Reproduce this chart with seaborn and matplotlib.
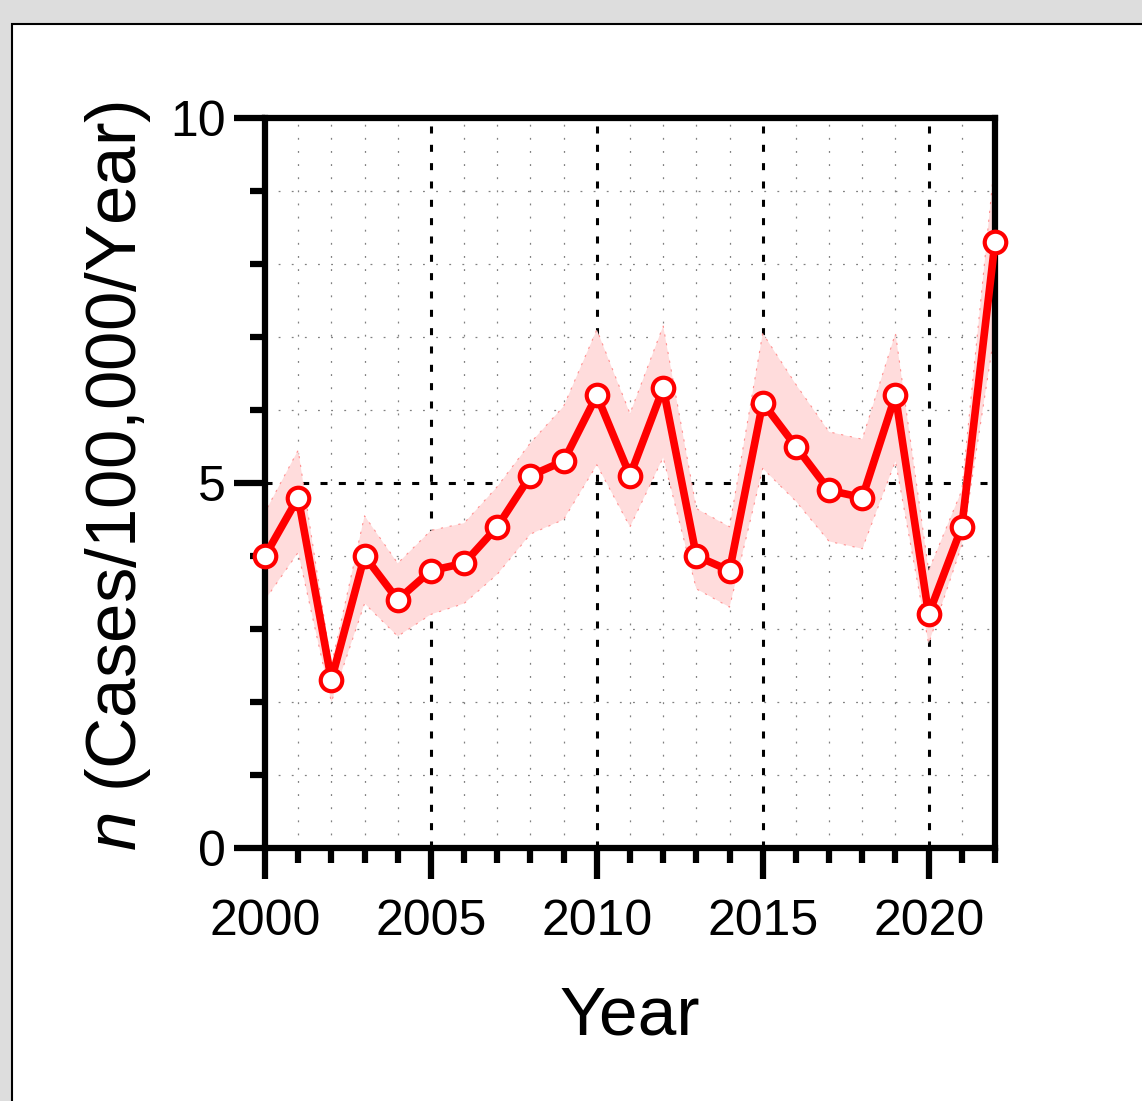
import matplotlib
matplotlib.use("Agg")
import matplotlib.pyplot as plt
import matplotlib.patches as mpatches
from matplotlib.ticker import MultipleLocator
import seaborn as sns
import pandas as pd

# incidence per year
years = list(range(2000, 2023))
rate = [4.0, 4.8, 2.3, 4.0, 3.4, 3.8, 3.9, 4.4, 5.1, 5.3, 6.2, 5.1,
        6.3, 4.0, 3.8, 6.1, 5.5, 4.9, 4.8, 6.2, 3.2, 4.4, 8.3]
upper = [4.6, 5.45, 2.5, 4.55, 3.9, 4.35, 4.45, 4.95, 5.55, 6.05, 7.1, 5.95,
         7.15, 4.65, 4.4, 7.05, 6.35, 5.7, 5.6, 7.05, 3.8, 4.9, 9.45]
lower = [3.4, 4.05, 2.0, 3.35, 2.9, 3.2, 3.35, 3.75, 4.3, 4.5, 5.25, 4.4,
         5.35, 3.55, 3.3, 5.2, 4.75, 4.2, 4.1, 5.3, 2.8, 4.15, 7.1]

df = pd.DataFrame({"year": years, "rate": rate, "upper": upper, "lower": lower})

sns.set_theme(style="white")
plt.rcParams["font.family"] = ["Liberation Sans", "DejaVu Sans"]
plt.rcParams["mathtext.fontset"] = "custom"
plt.rcParams["mathtext.rm"] = "Liberation Sans"
plt.rcParams["mathtext.it"] = "Liberation Sans:italic"
plt.rcParams["text.color"] = "black"
plt.rcParams["axes.labelcolor"] = "black"
plt.rcParams["xtick.color"] = "black"
plt.rcParams["ytick.color"] = "black"

fig = plt.figure(figsize=(11.42, 11.01), dpi=100)
fig.patch.set_facecolor("#dddddd")
# white panel with black frame
panel = mpatches.Rectangle((12 / 1142, -0.05), 1.2, 1.05 - 24 / 1101,
                           transform=fig.transFigure, facecolor="white",
                           edgecolor="black", linewidth=1.5, zorder=-5)
fig.patches.append(panel)

ax = fig.add_axes([265 / 1142, 1 - 848 / 1101, 730 / 1142, 730 / 1101])
ax.set_facecolor("none")

# confidence band
ax.fill_between(df["year"], df["lower"], df["upper"], color="#ffdcdc",
                edgecolor="#ff9090", linewidth=0.8, linestyle=(0, (2, 6)),
                zorder=2)

sns.lineplot(data=df, x="year", y="rate", ax=ax, color="#ff0000",
             linewidth=5.5, marker="o", markersize=15.5,
             markerfacecolor="white", markeredgecolor="#ff0000",
             markeredgewidth=3, clip_on=False, zorder=5)

ax.set_xlim(2000, 2022)
ax.set_ylim(0, 10)
ax.xaxis.set_major_locator(MultipleLocator(5))
ax.xaxis.set_minor_locator(MultipleLocator(1))
ax.yaxis.set_major_locator(MultipleLocator(5))
ax.yaxis.set_minor_locator(MultipleLocator(1))

# grid lines
ax.set_axisbelow(True)
ax.grid(which="minor", color="#808080", linewidth=0.9, linestyle=(0, (1.5, 9)))
ax.grid(which="major", color="black", linewidth=2.2, linestyle=(0, (2.3, 3.7)))

for s in ax.spines.values():
    s.set_visible(True)
    s.set_color("black")
    s.set_linewidth(4.5)
    s.set_zorder(4)

ax.tick_params(which="major", direction="out", length=22, width=4.5,
               color="black", labelsize=36, pad=6, left=True, bottom=True)
ax.tick_params(axis="x", which="major", pad=15)
ax.tick_params(which="minor", direction="out", length=11, width=4.5,
               color="black", left=True, bottom=True)

ax.set_xlabel("Year", fontsize=50, labelpad=28)
ax.set_ylabel(r"$\mathit{n}$ (Cases/100,000/Year)", fontsize=51)
ax.yaxis.set_label_coords(-0.153, 0.51)

fig.savefig("out.png", dpi=100, facecolor=fig.get_facecolor())
